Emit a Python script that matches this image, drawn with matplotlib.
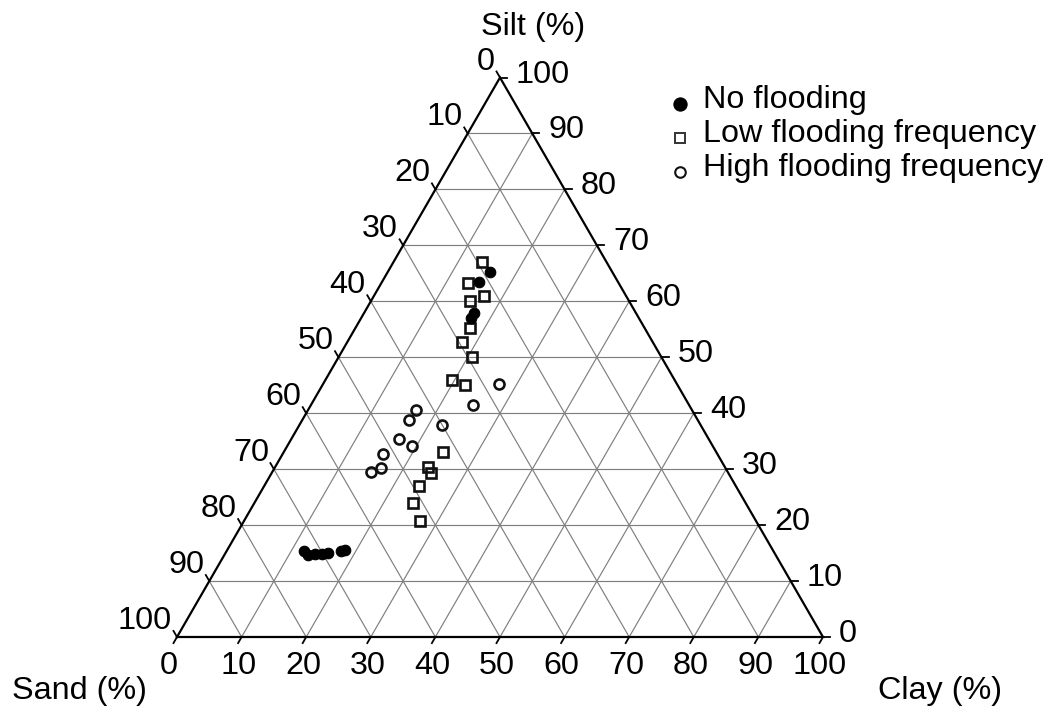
import numpy as np
import matplotlib
matplotlib.use("Agg")
import matplotlib.pyplot as plt

plt.rcParams['font.family'] = ['Liberation Sans', 'DejaVu Sans']

# ---- data (percent) ----
no_clay = [15.9, 15.0, 16.9, 17.0, 12.0, 12.9, 13.9, 15.0, 15.9, 17.7, 18.2]
no_silt = [65.2, 63.4, 58.0, 57.0, 15.3, 14.7, 14.9, 14.9, 15.0, 15.3, 15.6]

low_clay = [13.7, 13.5, 17.0, 15.3, 17.7, 17.8, 20.6, 19.6, 22.1, 24.6, 23.6, 24.7, 24.0, 24.6, 27.2]
low_silt = [67.0, 63.2, 60.9, 60.1, 55.2, 52.7, 50.1, 46.0, 45.1, 33.0, 30.4, 29.3, 27.0, 23.9, 20.7]

high_clay = [27.2, 25.1, 16.7, 16.5, 22.0, 16.7, 19.3, 15.5, 16.5, 15.3]
high_silt = [45.3, 41.4, 40.6, 38.8, 37.9, 35.4, 34.2, 32.7, 30.2, 29.5]

ticks = list(range(0, 101, 10))
legend_labels = ["No flooding", "Low flooding frequency", "High flooding frequency"]
axis_titles = ["Silt (%)", "Sand (%)", "Clay (%)"]

H = np.sqrt(3) / 2


def tern(clay, silt):
    clay = np.asarray(clay, float)
    silt = np.asarray(silt, float)
    return clay + silt / 2.0, silt * H


W, Hpx = 1054, 711
fig = plt.figure(figsize=(W / 100, Hpx / 100), dpi=100)
ax = fig.add_axes([0, 0, 1, 1])
S = 6.46          # px per percent
X0, Y0 = 177, 637  # pixel of origin
PX = 1 / S
ax.set_xlim(-X0 / S, (W - X0) / S)
ax.set_ylim(-(Hpx - Y0) / S, Y0 / S)
ax.axis('off')

grid_kw = dict(color='#7f7f7f', lw=0.85, zorder=1)
for v in ticks[1:-1]:
    x, y = tern([0, 100 - v], [v, v]); ax.plot(x, y, **grid_kw)
    x, y = tern([v, v], [0, 100 - v]); ax.plot(x, y, **grid_kw)
    x, y = tern([100 - v, 0], [0, 100 - v]); ax.plot(x, y, **grid_kw)

# triangle outline
x, y = tern([0, 100, 0, 0], [0, 0, 100, 0])
ax.plot(x, y, color='black', lw=1.6, zorder=2, solid_joinstyle='miter')

fs = 23.3
tl = 7 * PX
for v in ticks:
    # bottom: clay
    bx, by = tern(v, 0)
    ax.plot([bx, bx - 0.5 * tl], [by, by - H * tl], color='black', lw=1.3, zorder=2)
    off = -8 if v == 0 else -3
    ax.text(bx + off * PX, by - 29 * PX, str(v), ha='center', va='center', fontsize=fs)
    # right: silt
    rx, ry = tern(100 - v, v)
    ax.plot([rx, rx + tl], [ry, ry], color='black', lw=1.3, zorder=2)
    ax.text(rx + 16 * PX, ry + 3 * PX, str(v), ha='left', va='center', fontsize=fs)
    # left: sand
    lx, ly = tern(0, 100 - v)
    ax.plot([lx, lx - 0.5 * tl], [ly, ly + H * tl], color='black', lw=1.3, zorder=2)
    ax.text(lx - 5 * PX, ly + 16 * PX, str(v), ha='right', va='center', fontsize=fs)

# axis titles
ax.text((533 - X0) * PX, (Y0 - 27) * PX, axis_titles[0], ha='center', va='center', fontsize=fs)
ax.text((79 - X0) * PX, (Y0 - 691) * PX, axis_titles[1], ha='center', va='center', fontsize=fs)
ax.text((940 - X0) * PX, (Y0 - 691) * PX, axis_titles[2], ha='center', va='center', fontsize=fs)

# data points
x, y = tern(no_clay, no_silt)
ax.plot(x, y, 'o', ms=7.6, mfc='black', mec='black', mew=0.8, zorder=4, ls='none')
x, y = tern(low_clay, low_silt)
ax.plot(x, y, 's', ms=7.4, mfc='none', mec='#111111', mew=1.9, zorder=3, ls='none')
x, y = tern(high_clay, high_silt)
ax.plot(x, y, 'o', ms=7.2, mfc='none', mec='#111111', mew=1.9, zorder=3, ls='none')

# legend
lx = (680 - X0) * PX
tx = (703 - X0) * PX
rows = [100, 134, 168]
styles = [dict(marker='o', ms=9.5, mfc='black', mec='black', mew=0.8),
          dict(marker='s', ms=7.2, mfc='none', mec='#333333', mew=1.4),
          dict(marker='o', ms=7.6, mfc='none', mec='#111111', mew=1.5)]
for r, lab, st in zip(rows, legend_labels, styles):
    ax.plot([lx], [(Y0 - r - 4) * PX], ls='none', **st)
    ax.text(tx, (Y0 - r) * PX, lab, ha='left', va='center', fontsize=fs)

fig.savefig('out.png', dpi=100)
